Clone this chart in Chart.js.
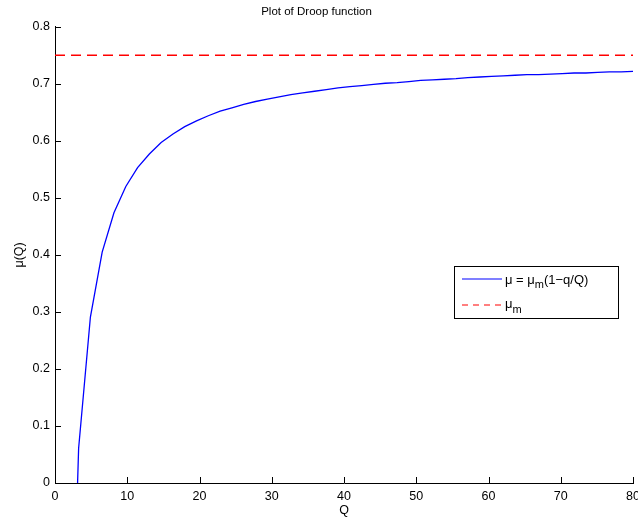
<!DOCTYPE html>
<html>
<head>
<meta charset="utf-8">
<script src="https://cdn.jsdelivr.net/npm/chart.js@4"></script>
<style>
  html, body { margin: 0; padding: 0; background: #fff; }
  canvas { display: block; }
</style>
</head>
<body>
<canvas id="droop" width="638" height="519"></canvas>
<script>
(function () {
    'use strict';

    // sampled cell quota Q and growth rate mu(Q)
    const quota = [
        1.63, 3.27, 4.90, 6.53, 8.16, 9.80, 11.43, 13.06, 14.69, 16.33,
        17.96, 19.59, 21.22, 22.86, 24.49, 26.12, 27.76, 29.39, 31.02, 32.65,
        34.29, 35.92, 37.55, 39.18, 40.82, 42.45, 44.08, 45.71, 47.35, 48.98,
        50.61, 52.24, 53.88, 55.51, 57.14, 58.78, 60.41, 62.04, 63.67, 65.31,
        66.94, 68.57, 70.20, 71.84, 73.47, 75.10, 76.73, 78.37, 80.00
    ];
    const growth = [
        -0.628, 0.061, 0.291, 0.405, 0.474, 0.520, 0.553, 0.577, 0.597, 0.612,
        0.625, 0.635, 0.644, 0.652, 0.658, 0.664, 0.669, 0.673, 0.677, 0.681,
        0.684, 0.687, 0.690, 0.693, 0.695, 0.697, 0.699, 0.701, 0.702, 0.704,
        0.706, 0.707, 0.708, 0.709, 0.711, 0.712, 0.713, 0.714, 0.715, 0.716,
        0.716, 0.717, 0.718, 0.719, 0.719, 0.720, 0.721, 0.721, 0.722
    ];
    // maximum growth rate mu_m
    const muMax = 0.75;
    const xTicks = [0, 10, 20, 30, 40, 50, 60, 70, 80];
    const yTicks = [0, 0.1, 0.2, 0.3, 0.4, 0.5, 0.6, 0.7, 0.8];

    const FONT = 'Liberation Sans, Arial, Helvetica, sans-serif';

    // inward tick marks on the left and bottom axes
    const innerTicks = {
        id: 'innerTicks',
        afterDraw(chart) {
            const ctx = chart.ctx;
            const x = chart.scales.x, y = chart.scales.y;
            const area = chart.chartArea;
            ctx.save();
            ctx.strokeStyle = '#000';
            ctx.lineWidth = 1;
            ctx.beginPath();
            xTicks.forEach(v => {
                const px = Math.round(x.getPixelForValue(v)) + 0.5;
                ctx.moveTo(px, area.bottom);
                ctx.lineTo(px, area.bottom - 6);
            });
            yTicks.forEach(v => {
                const py = Math.round(y.getPixelForValue(v)) + 0.5;
                ctx.moveTo(area.left, py);
                ctx.lineTo(area.left + 6, py);
            });
            ctx.stroke();
            ctx.restore();
        }
    };

    // legend box with subscripted labels
    const droopLegend = {
        id: 'droopLegend',
        afterDraw(chart) {
            const ctx = chart.ctx;
            const bx = 454.5, by = 266.5, bw = 164, bh = 52;
            ctx.save();
            ctx.setLineDash([]);
            ctx.fillStyle = '#fff';
            ctx.fillRect(bx, by, bw, bh);
            ctx.strokeStyle = '#000';
            ctx.lineWidth = 1;
            ctx.strokeRect(bx, by, bw, bh);

            ctx.lineWidth = 1.1;
            ctx.beginPath();
            ctx.strokeStyle = 'rgb(0, 0, 255)';
            ctx.moveTo(462, 279);
            ctx.lineTo(502, 279);
            ctx.stroke();

            ctx.beginPath();
            ctx.strokeStyle = 'rgb(255, 0, 0)';
            ctx.setLineDash([6, 5]);
            ctx.moveTo(462, 305);
            ctx.lineTo(502, 305);
            ctx.stroke();
            ctx.setLineDash([]);

            ctx.fillStyle = '#000';
            ctx.textBaseline = 'alphabetic';
            ctx.textAlign = 'left';
            const main = '13px ' + FONT, sub = '11px ' + FONT;
            const parts = [['\u03bc = \u03bc', main, 0], ['m', sub, 4], ['(1\u2212q/Q)', main, 0]];
            let tx = 505;
            parts.forEach(([t, f, dy]) => {
                ctx.font = f;
                ctx.fillText(t, tx, 284 + dy);
                tx += ctx.measureText(t).width;
            });
            ctx.font = main;
            ctx.fillText('\u03bc', 505, 308);
            const w = ctx.measureText('\u03bc').width;
            ctx.font = sub;
            ctx.fillText('m', 505 + w, 313);
            ctx.restore();
        }
    };

    new Chart(document.getElementById('droop'), {
        type: 'line',
        data: {
            datasets: [{
                label: 'mu',
                data: quota.map((q, i) => ({ x: q, y: growth[i] })),
                borderColor: '#0000ff',
                borderWidth: 1.3,
                pointRadius: 0,
                tension: 0
            }, {
                label: 'mu_m',
                data: [{ x: 0, y: muMax }, { x: 80, y: muMax }],
                borderColor: '#ff0000',
                borderWidth: 1.6,
                borderDash: [10, 6],
                pointRadius: 0
            }]
        },
        options: {
            responsive: false,
            animation: false,
            devicePixelRatio: 1,
            layout: { padding: { left: 0, right: 5, top: 0, bottom: 0 } },
            plugins: {
                legend: { display: false },
                tooltip: { enabled: false },
                title: {
                    display: true,
                    text: 'Plot of Droop function',
                    color: '#000',
                    font: { family: FONT, size: 11.5, weight: 'normal' },
                    padding: { top: 5, bottom: 8 }
                }
            },
            scales: {
                x: {
                    type: 'linear',
                    min: 0,
                    max: 80,
                    afterBuildTicks: s => { s.ticks = xTicks.map(v => ({ value: v })); },
                    afterFit: s => {
                        s.height = 36;
                        s.paddingLeft = 0;
                        s.paddingRight = 0;
                    },
                    grid: { display: false, drawTicks: false },
                    border: { display: true, color: '#000', width: 1 },
                    ticks: {
                        color: '#000',
                        padding: 6,
                        maxRotation: 0,
                        font: { family: FONT, size: 12.5 }
                    },
                    title: {
                        display: true,
                        text: 'Q',
                        color: '#000',
                        padding: { top: 0, bottom: 1 },
                        font: { family: FONT, size: 12.5 }
                    }
                },
                y: {
                    type: 'linear',
                    min: 0,
                    max: 0.8,
                    afterBuildTicks: s => { s.ticks = yTicks.map(v => ({ value: v })); },
                    afterFit: s => { s.width = 55; },
                    grid: { display: false, drawTicks: false },
                    border: { display: true, color: '#000', width: 1 },
                    ticks: {
                        color: '#000',
                        padding: 5,
                        font: { family: FONT, size: 12.5 },
                        callback: v => (v === 0 ? '0' : v.toFixed(1))
                    },
                    title: {
                        display: true,
                        text: '\u03bc(Q)',
                        color: '#000',
                        padding: { top: 12, bottom: 0 },
                        font: { family: FONT, size: 12.5 }
                    }
                }
            }
        },
        plugins: [innerTicks, droopLegend]
    });
})();
</script>
</body>
</html>
